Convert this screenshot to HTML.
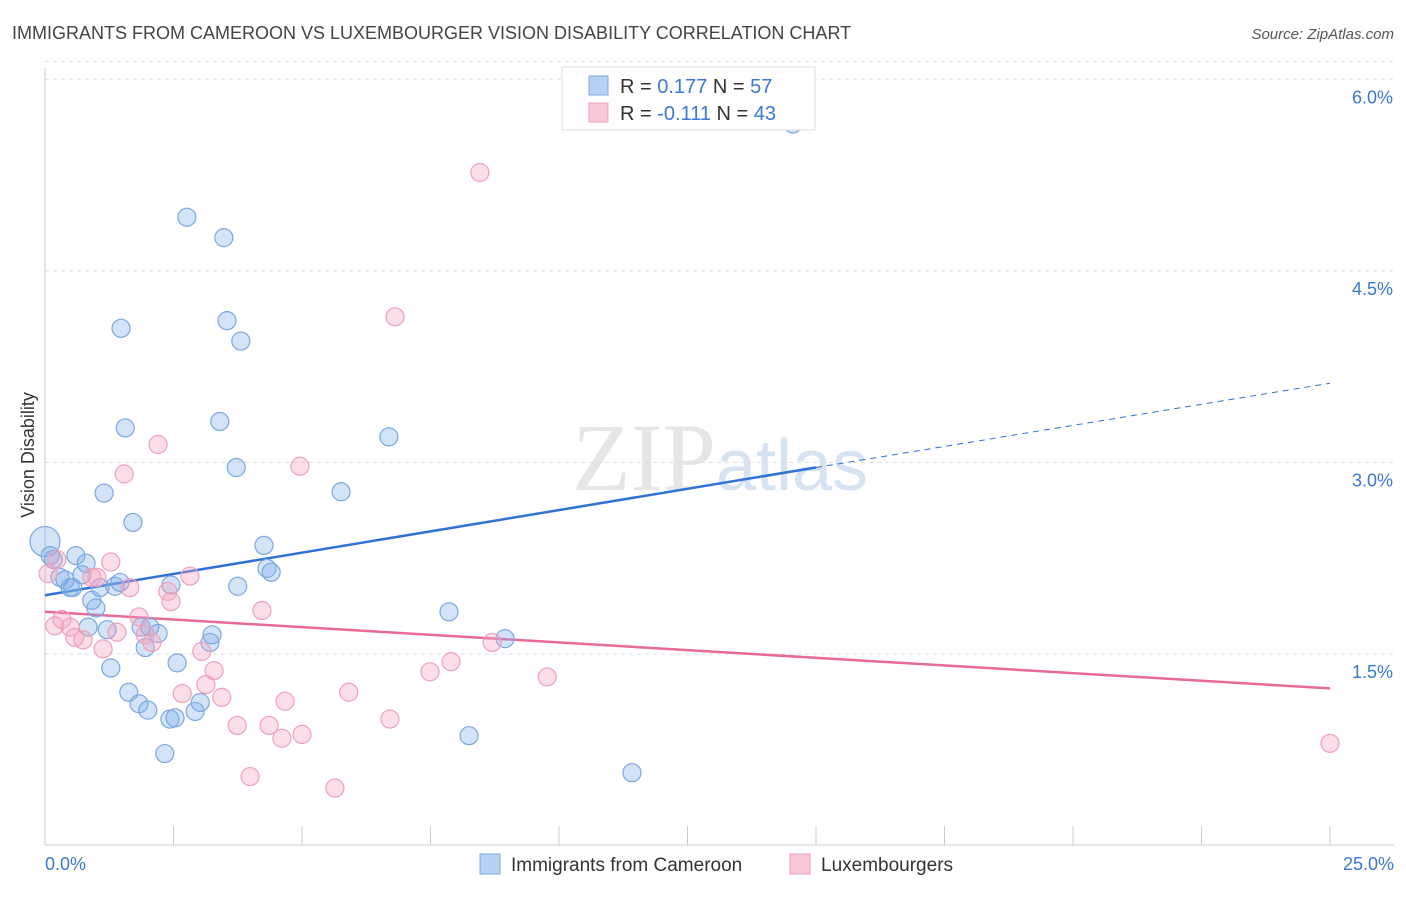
<!DOCTYPE html>
<html><head><meta charset="utf-8"><style>
body{margin:0;background:#fff;font-family:"Liberation Sans",sans-serif;}
</style></head><body>
<svg id="chart" width="1406" height="892" xmlns="http://www.w3.org/2000/svg" font-family="Liberation Sans, sans-serif">
<text x="12" y="39" font-size="18" fill="#444">IMMIGRANTS FROM CAMEROON VS LUXEMBOURGER VISION DISABILITY CORRELATION CHART</text>
<text x="1394" y="39" font-size="15" fill="#555" font-style="italic" text-anchor="end">Source: ZipAtlas.com</text>
<text x="720" y="490" font-size="96" fill="#e6e6e6" text-anchor="middle" font-family="Liberation Serif, serif">ZIP<tspan fill="#d5e3f3" font-family="Liberation Sans, sans-serif" font-size="72">atlas</tspan></text>
<text transform="translate(34,455) rotate(-90)" font-size="18" fill="#333" text-anchor="middle">Vision Disability</text>
<g id="grid"></g><g id="lines"></g><g id="pts"></g>
<g>
<rect x="562" y="67" width="253" height="63" fill="#fff" stroke="#ddd"/>
<rect x="589" y="76" width="19" height="19" fill="#b7d1f2" stroke="#7aa8e0"/>
<rect x="589" y="103" width="19" height="19" fill="#f8c8d8" stroke="#eea0bb"/>
<text x="620" y="93" font-size="20" fill="#333">R = <tspan fill="#3a78d6">0.177</tspan>   N = <tspan fill="#3a78d6">57</tspan></text>
<text x="620" y="120" font-size="20" fill="#333">R = <tspan fill="#3a78d6">-0.111</tspan>   N = <tspan fill="#3a78d6">43</tspan></text>
</g>
<g>
<rect x="480" y="854" width="20" height="20" fill="#b7d1f2" stroke="#7aa8e0"/>
<text x="511" y="871" font-size="19" fill="#333">Immigrants from Cameroon</text>
<rect x="790" y="854" width="20" height="20" fill="#f8c8d8" stroke="#eea0bb"/>
<text x="821" y="871" font-size="19" fill="#333">Luxembourgers</text>
</g>
</svg>
<script>
const yTicks=[1.5,3.0,4.5,6.0];
const yTickLabels=["1.5%","3.0%","4.5%","6.0%"];
const xTickLabels=["0.0%","25.0%"];
const blueX=[0,0.10,0.16,0.29,0.39,0.49,0.54,0.60,0.72,0.80,0.84,0.91,0.99,1.07,1.15,1.21,1.28,1.36,1.46,1.48,1.56,1.63,1.71,1.83,1.87,1.95,2.00,2.04,2.20,2.33,2.43,2.45,2.53,2.57,2.76,2.92,3.02,3.21,3.25,3.48,3.54,3.72,3.75,3.81,3.40,4.26,4.32,4.40,5.76,6.69,7.86,8.25,8.95,11.42,14.55];
const blueY=[2.38,2.27,2.24,2.10,2.08,2.02,2.02,2.27,2.12,2.21,1.71,1.92,1.86,2.02,2.76,1.69,1.39,2.03,2.06,4.05,3.27,1.20,2.53,1.11,1.71,1.55,1.06,1.71,1.66,0.72,0.99,2.04,1.00,1.43,4.92,1.05,1.12,1.59,1.65,4.76,4.11,2.96,2.03,3.95,3.32,2.35,2.17,2.14,2.77,3.20,1.83,0.86,1.62,0.57,5.65];
const pinkX=[0.06,0.19,0.23,0.33,0.49,0.58,0.74,0.91,1.01,1.13,1.28,1.40,1.65,1.54,1.83,1.95,2.08,2.20,2.39,2.45,2.67,2.82,3.05,3.13,3.29,3.44,3.74,3.99,4.22,4.36,4.61,4.67,4.96,5.00,5.64,5.91,6.71,6.81,7.49,7.90,8.46,8.70,9.77,25.00];
const pinkY=[2.13,1.72,2.24,1.77,1.71,1.63,1.61,2.10,2.10,1.54,2.22,1.67,2.02,2.91,1.79,1.65,1.59,3.14,1.99,1.91,1.19,2.11,1.52,1.26,1.37,1.16,0.94,0.54,1.84,0.94,0.84,1.13,2.97,0.87,0.45,1.20,0.99,4.14,1.36,1.44,5.27,1.59,1.32,0.80];
const blueLine=[1.96,2.96,3.62]; // at x=0, 15, 25
const pinkLine=[1.83,1.23]; // at x=0, 25
const NS="http://www.w3.org/2000/svg";
const X=v=>45+v*51.4, Y=v=>845.5-v*127.7;
function mk(t,a,p){const e=document.createElementNS(NS,t);for(const k in a)e.setAttribute(k,a[k]);p.appendChild(e);return e;}
const g=document.getElementById('grid');
yTicks.forEach((t,i)=>{
 const l=mk('line',{x1:45,x2:1394,y1:Y(t),y2:Y(t),stroke:'#ddd','stroke-dasharray':'4,4'},g);
 
 
 const tx=mk('text',{x:1393,y:Y(t)+24,'font-size':18,fill:'#3a78d6','text-anchor':'end'},g);
 tx.textContent=yTickLabels[i];
 
 
});
const tg=mk('line',{x1:45,x2:1394,y1:Y(6.14),y2:Y(6.14),stroke:'#ddd','stroke-dasharray':'4,4'},g);
mk('line',{x1:45,x2:45,y1:68,y2:845,stroke:'#ccc'},g);
mk('line',{x1:45,x2:1394,y1:845,y2:845,stroke:'#ccc'},g);
for(let i=0;i<=10;i++){const t=mk('line',{x1:X(i*2.5),x2:X(i*2.5),y1:826,y2:845,stroke:'#ccc'},g);
 
 }
[[0,'start',45],[25,'end',1394]].forEach((d,i)=>{const t=mk('text',{x:d[2],y:870,'font-size':18,fill:'#3a78d6','text-anchor':d[1]},g);t.textContent=xTickLabels[i];
 
 });
const L=document.getElementById('lines');
const b1=mk('line',{x1:X(0),y1:Y(blueLine[0]),x2:X(15),y2:Y(blueLine[1]),stroke:'#2e72d6','stroke-width':2.5},L);


const b2=mk('line',{x1:X(15),y1:Y(blueLine[1]),x2:X(25),y2:Y(blueLine[2]),stroke:'#2e72d6','stroke-width':1,'stroke-dasharray':'6,5'},L);


const p1=mk('line',{x1:X(0),y1:Y(pinkLine[0]),x2:X(25),y2:Y(pinkLine[1]),stroke:'#e8699a','stroke-width':2.5},L);


const P=document.getElementById('pts');
blueX.forEach((x,i)=>{const c=mk('circle',{cx:X(x),cy:Y(blueY[i]),r:i===0?15:9,fill:'rgba(130,175,235,0.35)',stroke:'#7aa8e0','stroke-width':1.2},P);
 
 });
pinkX.forEach((x,i)=>{const c=mk('circle',{cx:X(x),cy:Y(pinkY[i]),r:9,fill:'rgba(245,160,190,0.35)',stroke:'#eea0bb','stroke-width':1.2},P);
 
 });
</script>
</body></html>
